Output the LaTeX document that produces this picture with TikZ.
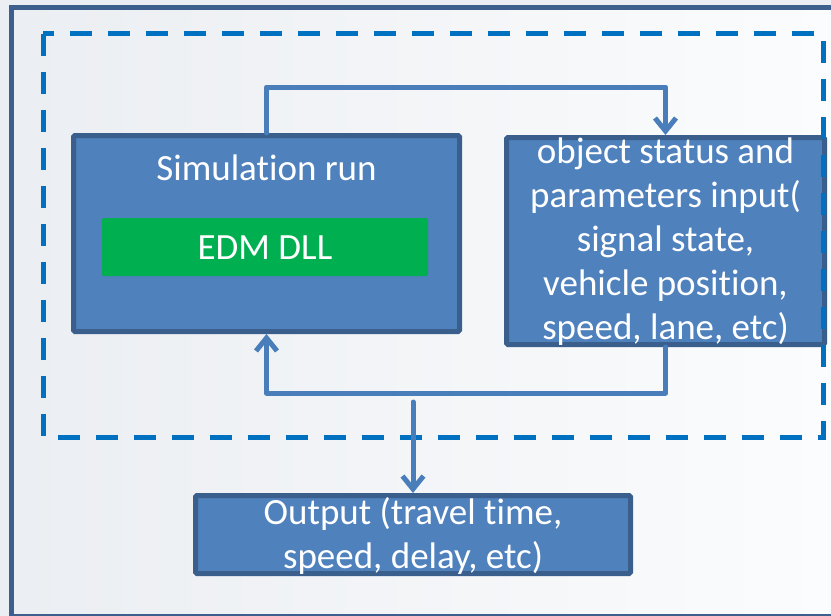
\documentclass[tikz,border=0pt]{standalone}
\usepackage{fontspec}
\setmainfont{Carlito}[Ligatures=NoCommon]
\usetikzlibrary{arrows.meta}
\definecolor{boxfill}{HTML}{4F81BD}
\definecolor{boxline}{HTML}{3A5F8C}
\definecolor{dashblue}{HTML}{0070C0}
\definecolor{conncol}{HTML}{4A7EBB}
\definecolor{edmgreen}{HTML}{00B050}
\definecolor{framecol}{HTML}{3C5F8D}
\definecolor{bgtop}{HTML}{EBEEF2}
\definecolor{bgbot}{HTML}{FBFCFD}
\begin{document}
\begin{tikzpicture}[x=1pt,y=-1pt,
  blockbox/.style={draw=boxline, fill=boxfill, line width=5pt, inner sep=0pt, rounded corners=1.5pt},
  greenbox/.style={fill=edmgreen, inner sep=0pt, rounded corners=2pt},
  boxtext/.style={text=white, inner sep=0pt, align=center, anchor=base,
    font=\fontsize{37}{44}\selectfont},
  conn/.style={draw=conncol, line width=5pt, line cap=round, line join=round,
    -{Straight Barb[length=13pt,width=21pt]}},
  dashframe/.style={draw=dashblue, line width=5pt, dash pattern=on 22pt off 16pt}
]
\useasboundingbox (0,0) rectangle (831,616);
\fill[bgtop] (0,0) rectangle (831,616);
\shade[left color=bgtop, right color=bgbot] (11,7) rectangle (831,616);
% outer frame
\draw[framecol, line width=1.5pt] (11,615) -- (831,615);
\draw[framecol, line width=5pt] (11.5,616) -- (11.5,7.5) -- (831,7.5);

% boxes
\node[blockbox, minimum width=386pt, minimum height=196pt] (sim) at (266.5,233.5) {};
\node[boxtext] (simlabel) at (266.5,180) {Simulation run};
\node[greenbox, minimum width=326pt, minimum height=58pt] (edm) at (265,247) {};
\node[boxtext] (edmlabel) at (265,259) {EDM DLL};
\node[blockbox, minimum width=318pt, minimum height=207pt] (status) at (665.5,241) {};
\node[boxtext] (statuslabel) at (665.5,339)
  {object status and\\parameters input(\\signal state,\\vehicle position,\\speed, lane, etc)};
\node[blockbox, minimum width=435pt, minimum height=78pt] (out) at (413,534.5) {};
\node[boxtext] (outlabel) at (413,568) {Output (travel time,\\speed, delay, etc)};

% dashed boundary
\draw[dashframe] (43,33.5) rectangle (823,437);

% connectors
\draw[conn] (sim.north) -- ++(0,-46) -| (status.north);
\draw[conn] (status.south) -- ++(0,46) -| (sim.south);
\coordinate (outstart) at (413,402);
\draw[conn] (outstart) -- (out.north);
\end{tikzpicture}
\end{document}
